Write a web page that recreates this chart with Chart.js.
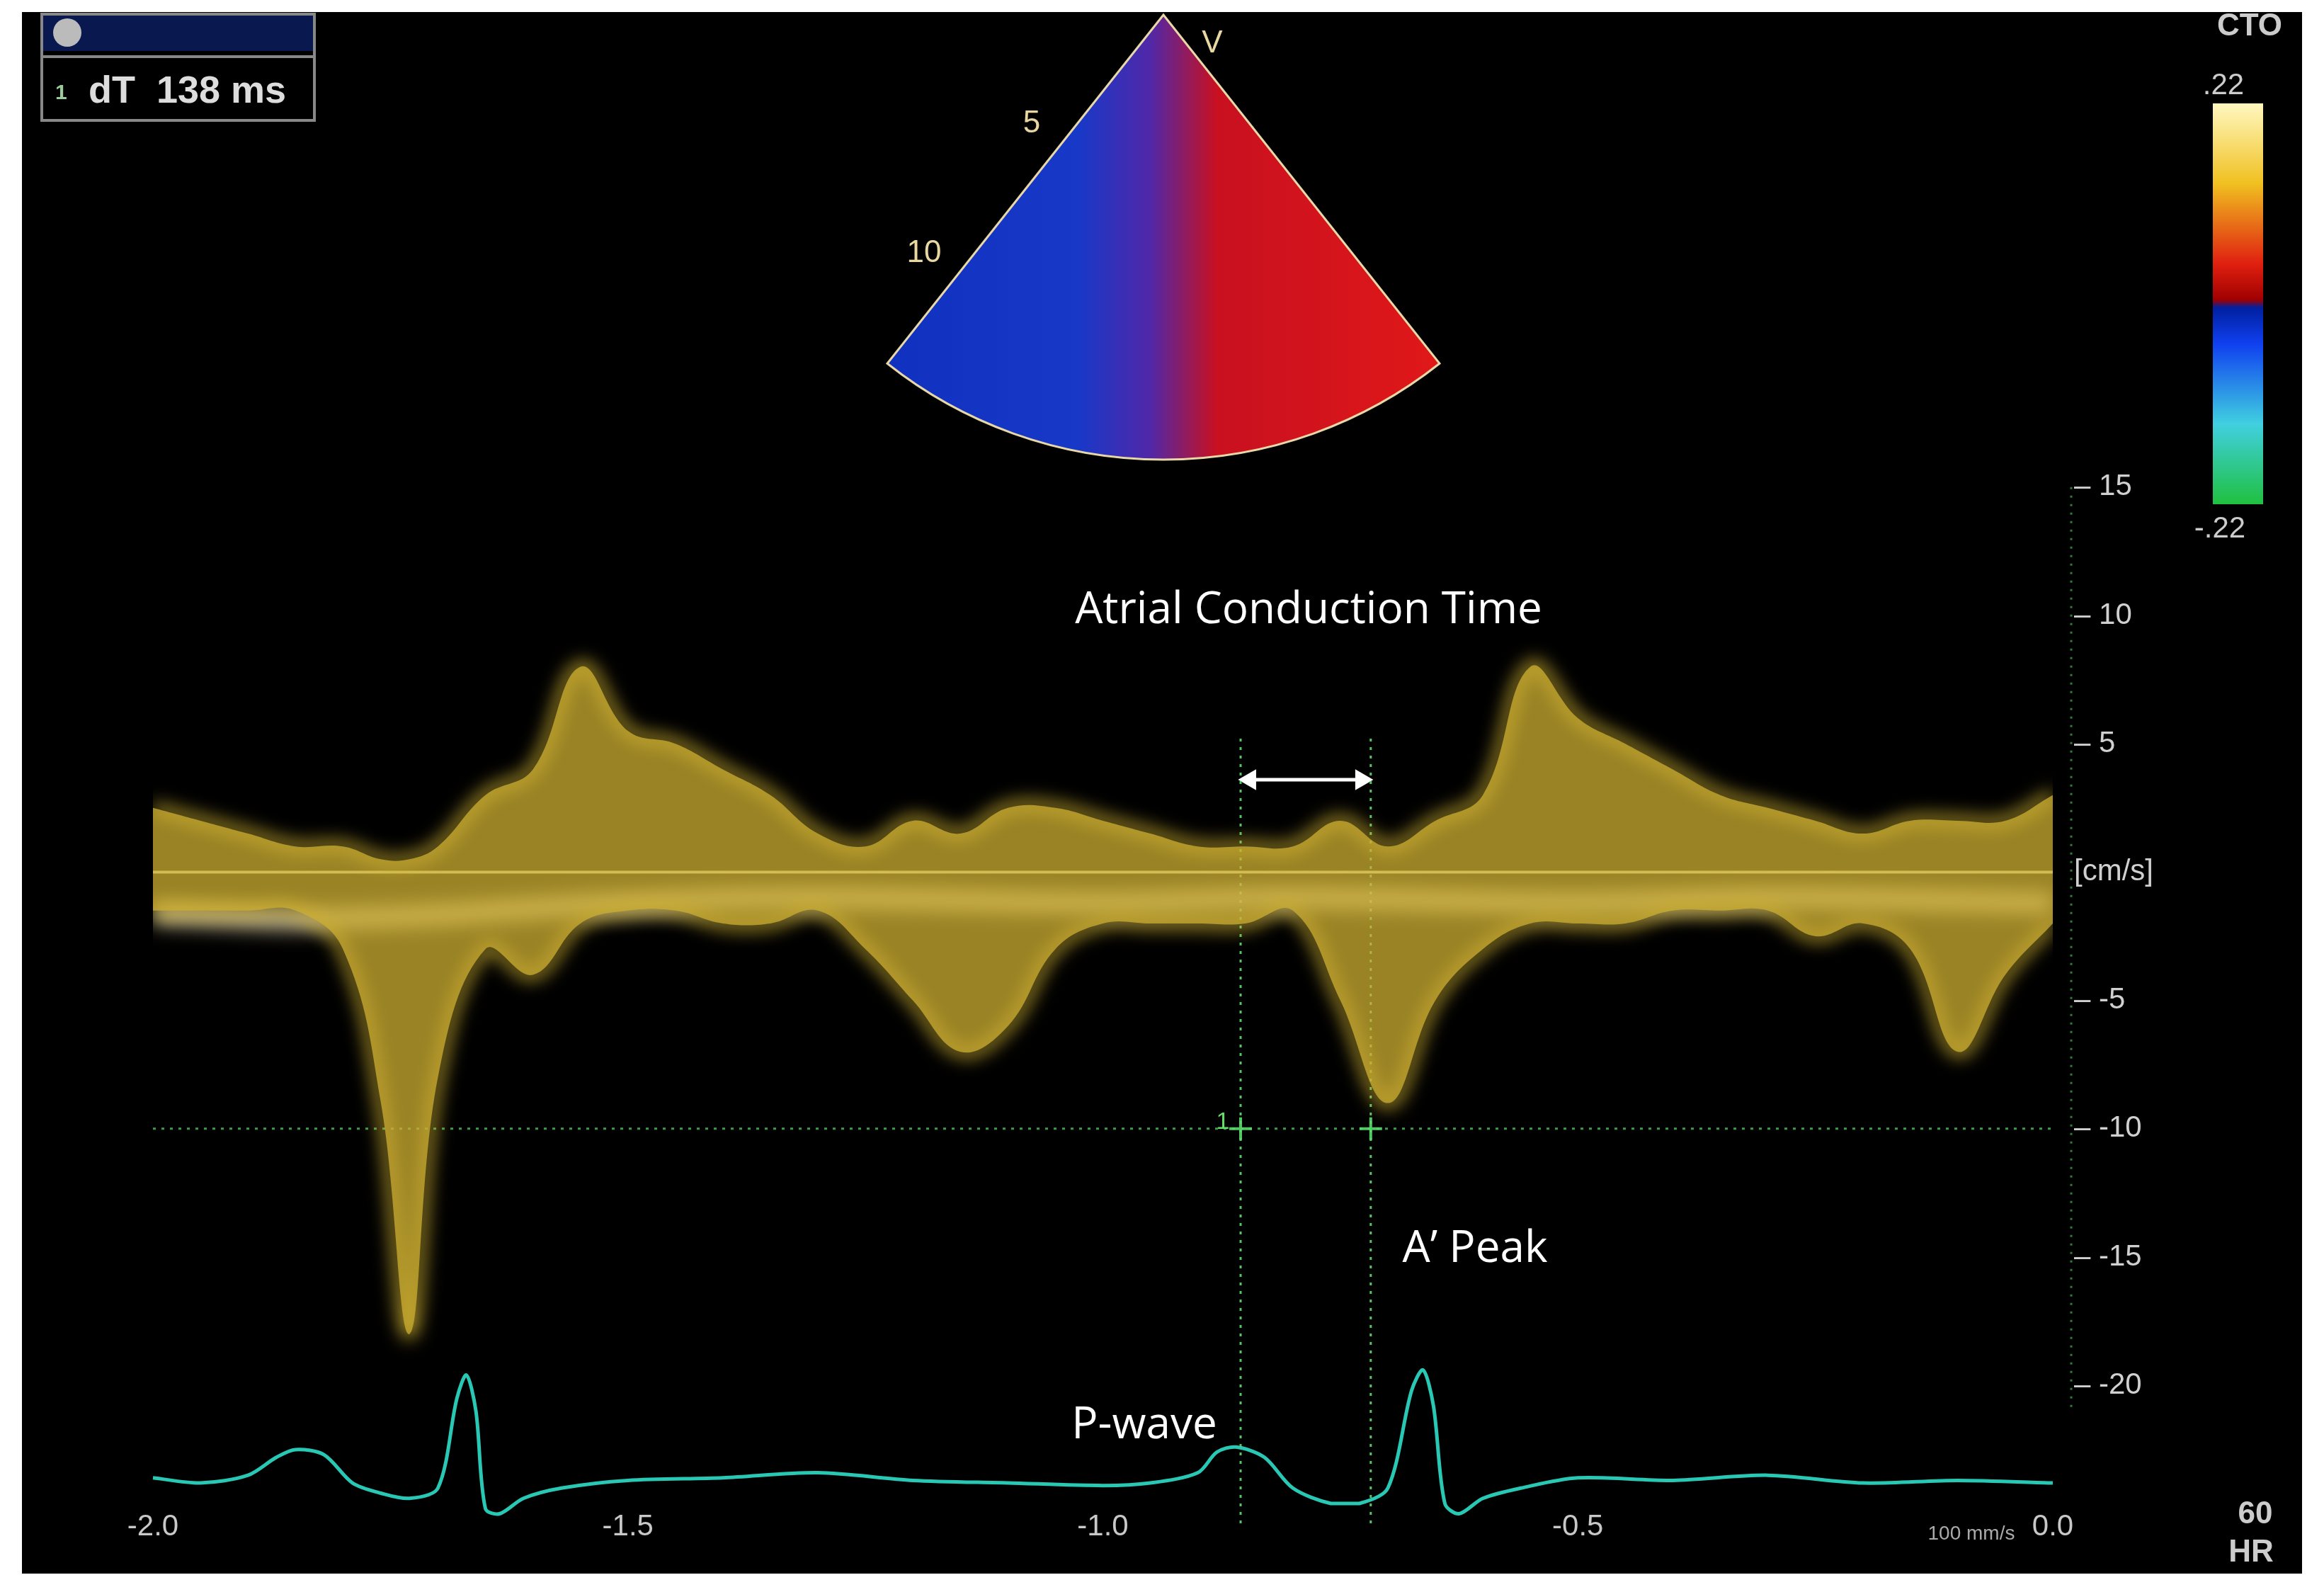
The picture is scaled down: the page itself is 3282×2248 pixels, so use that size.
<!DOCTYPE html>
<html><head><meta charset="utf-8">
<script src="https://cdn.jsdelivr.net/npm/chart.js@4"></script>
<style>html,body{margin:0;padding:0;background:#fff;}#w{width:3282px;height:2248px;position:relative}</style>
</head><body><div id="w"><canvas id="c" width="3282" height="2248"></canvas></div>
<script>
const timeT=[-2.0,-1.95,-1.9,-1.85,-1.8,-1.76,-1.73,-1.7,-1.65,-1.6,-1.55,-1.5,-1.45,-1.4,-1.35,-1.3,-1.25,-1.2,-1.15,-1.1,-1.05,-1.0,-0.95,-0.9,-0.85,-0.8,-0.75,-0.7,-0.65,-0.6,-0.55,-0.5,-0.45,-0.4,-0.35,-0.3,-0.25,-0.2,-0.15,-0.1,-0.05,0];
const dopplerHi=[2.5,2,1.5,1,1,0.5,0.5,1,3,4,8,5.5,5,4,3,1.5,1,2,1.5,2.5,2.5,2,1.5,1,1,1,2,1,2,3,8,6,5,4,3,2.5,2,1.5,2,2,2,3];
const dopplerLo=[-1.5,-1.5,-1.5,-1.5,-3,-9,-18,-8,-3,-4,-2,-1.5,-1.5,-2,-2,-1.5,-3,-5,-7,-6,-3,-2,-2,-2,-2,-1.5,-5,-9,-5,-3,-2,-2,-2,-1.5,-1.5,-1.5,-2.5,-2,-3,-7,-4,-2];
const ecgT=[-2.0,-1.95,-1.9,-1.87,-1.85,-1.82,-1.79,-1.76,-1.73,-1.70,-1.68,-1.67,-1.66,-1.65,-1.635,-1.61,-1.57,-1.5,-1.4,-1.3,-1.2,-1.1,-1.0,-0.95,-0.9,-0.88,-0.86,-0.83,-0.8,-0.76,-0.73,-0.70,-0.675,-0.663,-0.652,-0.64,-0.625,-0.6,-0.56,-0.5,-0.4,-0.3,-0.2,-0.1,0];
const ecgV=[-23.6,-23.8,-23.5,-22.8,-22.5,-22.7,-23.8,-24.2,-24.4,-24.0,-20.5,-19.6,-21.0,-24.8,-25.0,-24.4,-24.0,-23.7,-23.6,-23.4,-23.7,-23.8,-23.9,-23.8,-23.4,-22.6,-22.4,-22.8,-24.0,-24.6,-24.6,-24.0,-20.2,-19.4,-20.8,-24.6,-25.0,-24.4,-24.0,-23.6,-23.7,-23.5,-23.8,-23.7,-23.8];
const markerT=[-0.855,-0.718];
const markerLevel=-10;
const arrowLevel=3.6;
const yTicks=[15,10,5,0,-5,-10,-15,-20];
const xTicks=[-2.0,-1.5,-1.0,-0.5,0.0];

const pts=(xs,ys)=>xs.map((x,i)=>({x,y:ys[i]}));
const green='rgba(90,220,110,0.9)';
const ds=[
 {data:pts(timeT,dopplerHi),borderColor:'rgba(210,180,50,0.8)',borderWidth:16,backgroundColor:'rgba(205,175,50,0.75)',fill:'+1',tension:0.4,pointRadius:0,glow:12},
 {data:pts(timeT,dopplerLo),borderColor:'rgba(210,180,50,0.8)',borderWidth:16,fill:false,tension:0.4,pointRadius:0,glow:12},
 {data:[{x:-2,y:-1.6},{x:-1.8,y:-1.8},{x:-1.5,y:-1.2},{x:-1.3,y:-1.0},{x:-1.0,y:-1.2},{x:-0.8,y:-1.0},{x:-0.5,y:-1.2},{x:-0.3,y:-1.0},{x:0,y:-1.2}].map(p=>p),borderColor:'rgba(255,240,190,0.8)',borderWidth:30,tension:0.4,pointRadius:0,glow:14},
 {data:[{x:-2,y:0},{x:0,y:0}],borderColor:'rgba(240,240,190,0.95)',borderWidth:4,pointRadius:0},
 {data:[{x:-2,y:markerLevel},{x:0,y:markerLevel}],borderColor:'rgba(90,220,110,0.7)',borderWidth:3,borderDash:[4,8],pointRadius:0},
 {data:[{x:markerT[0],y:5.2},{x:markerT[0],y:-25.5}],borderColor:green,borderWidth:3,borderDash:[4,8],pointRadius:0,clip:false},
 {data:[{x:markerT[1],y:5.2},{x:markerT[1],y:-25.5}],borderColor:green,borderWidth:3,borderDash:[4,8],pointRadius:0,clip:false},
 {data:[{x:markerT[0],y:markerLevel},{x:markerT[1],y:markerLevel}],borderColor:'rgba(0,0,0,0)',pointStyle:'cross',pointRadius:16,pointBorderColor:green,pointBorderWidth:4},
 {data:pts(ecgT,ecgV),borderColor:'rgb(40,200,180)',borderWidth:5,tension:0.3,pointRadius:0,clip:false},
 {data:[{x:markerT[0]+0.01,y:arrowLevel},{x:markerT[1]-0.01,y:arrowLevel}],borderColor:'#fff',borderWidth:5,pointStyle:'triangle',pointRadius:12,pointBackgroundColor:'#fff',pointBorderColor:'#fff',pointRotation:[-90,90]}
];

const deco={id:'deco',
 beforeDraw(c){const x=c.ctx;x.save();x.fillStyle='#fff';x.fillRect(0,0,3282,2248);x.fillStyle='#000';x.fillRect(31,17,3220,2205);
  const cx=1643,cy=21,r=628,a0=Math.PI/2-0.67,a1=Math.PI/2+0.67;
  const g=x.createLinearGradient(1250,0,2030,0);
  g.addColorStop(0,'#1030c0');g.addColorStop(0.35,'#1838c8');g.addColorStop(0.48,'#5028a8');g.addColorStop(0.6,'#c81020');g.addColorStop(1,'#e01818');
  x.beginPath();x.moveTo(cx,cy);x.arc(cx,cy,r,a0,a1);x.closePath();x.fillStyle=g;x.fill();x.strokeStyle='#e8d8a8';x.lineWidth=3;x.stroke();
  const cb=x.createLinearGradient(0,146,0,712);
  cb.addColorStop(0,'#fff8c0');cb.addColorStop(0.2,'#f0c020');cb.addColorStop(0.4,'#e02010');cb.addColorStop(0.49,'#a00000');cb.addColorStop(0.51,'#0020a0');cb.addColorStop(0.6,'#1040f0');cb.addColorStop(0.8,'#40d0e0');cb.addColorStop(1,'#20c040');
  x.fillStyle=cb;x.fillRect(3125,146,71,566);
  x.strokeStyle='#888';x.lineWidth=4;x.strokeRect(59,20,385,150);x.fillStyle='#0a1850';x.fillRect(61,22,381,50);x.beginPath();x.moveTo(59,80);x.lineTo(444,80);x.stroke();
  x.fillStyle='#bbb';x.beginPath();x.arc(95,46,20,0,7);x.fill();
  x.fillStyle='#9c9';x.font='bold 30px Liberation Sans';x.fillText('1',78,140);
  x.fillStyle='#ddd';x.font='bold 54px Liberation Sans';x.fillText('dT  138 ms',125,145);
  x.restore();},
 beforeDatasetDraw(c,a){const g=c.data.datasets[a.index].glow;if(g){c.ctx.save();c.ctx.filter='blur('+g+'px)';}},
 afterDatasetDraw(c,a){if(c.data.datasets[a.index].glow){c.ctx.restore();}},
 afterDraw(c){const x=c.ctx;x.save();
  const ys=c.scales.y;x.strokeStyle='rgba(90,200,90,0.6)';x.lineWidth=3;x.setLineDash([3,9]);x.beginPath();x.moveTo(2925,ys.getPixelForValue(15));x.lineTo(2925,ys.getPixelForValue(-21));x.stroke();x.setLineDash([]);
  x.fillStyle='#fff';x.textAlign='center';x.textBaseline='middle';
  x.font='62px "Open Sans"';x.fillText('Atrial Conduction Time',1848,862);x.fillText('A\u2019 Peak',2083,1764);x.fillText('P-wave',1616,2013);
  x.fillStyle='#ccc';x.font='bold 44px Liberation Sans';x.fillText('CTO',3177,38);x.fillText('60',3185,2139);x.fillText('HR',3179,2193);
  x.font='42px Liberation Sans';x.fillText('.22',3140,121);x.fillText('-.22',3135,747);
  x.font='28px Liberation Sans';x.fillStyle='#aaa';x.fillText('100 mm/s',2784,2166);
  x.fillStyle='#6d6';x.font='34px Liberation Sans';x.fillText('1',1727,1585);
  x.fillStyle='#e8d8a0';x.font='44px Liberation Sans';x.fillText('V',1712,62);x.fillText('5',1457,175);x.fillText('10',1305,358);
  x.restore();}
};

new Chart(document.getElementById('c'),{type:'line',data:{datasets:ds},plugins:[deco],
 options:{responsive:false,animation:false,layout:{padding:{left:216,top:300,right:0,bottom:0}},
  plugins:{legend:{display:false},tooltip:{enabled:false}},
  scales:{
   x:{type:'linear',min:-2,max:0,afterBuildTicks:s=>{s.ticks=xTicks.map(v=>({value:v}));},afterFit:s=>{s.height=2248-2123;},
      grid:{display:false},border:{display:false},ticks:{color:'#c8c8c8',font:{size:42,family:'Liberation Sans'},padding:0,callback:v=>v.toFixed(1)}},
   y:{position:'right',min:-24.6,max:25.7,afterBuildTicks:s=>{s.ticks=yTicks.map(v=>({value:v}));},afterFit:s=>{s.width=383;},
      grid:{display:false,drawOnChartArea:false},border:{display:false},
      ticks:{color:'#d0d0d0',font:{size:42,family:'Liberation Sans'},padding:22,callback:v=>v===0?'[cm/s]':'\u2013 '+v}}
  }}});
</script></body></html>
